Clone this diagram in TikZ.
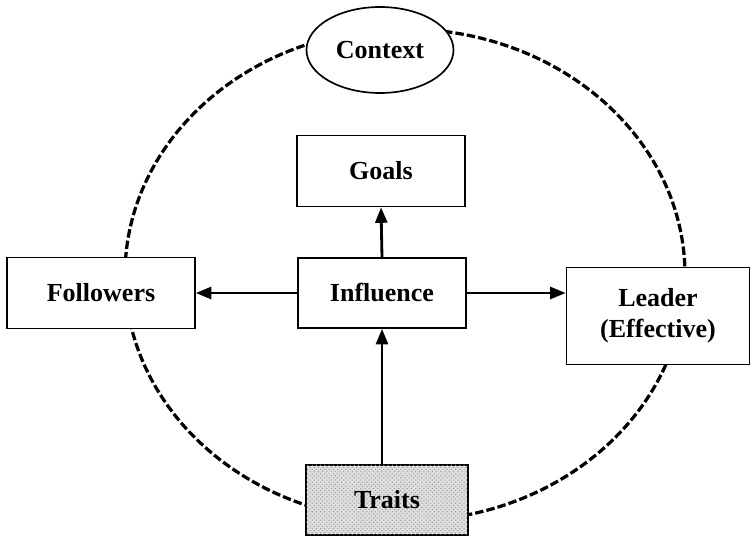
\documentclass[tikz,border=0pt]{standalone}
\usepackage{fontspec}
\setmainfont{Liberation Serif}
\usetikzlibrary{shapes,arrows.meta,positioning,patterns}

\begin{document}
\begin{tikzpicture}[
    x=0.025cm, y=-0.025cm,
    box/.style={rectangle, draw, fill=white, line width=1.2pt, font=\fontsize{18.5}{22}\selectfont\bfseries, align=center, inner sep=0pt},
    ctx/.style={ellipse, draw, fill=white, line width=1.2pt, minimum width=147*0.025cm, minimum height=86*0.025cm, font=\fontsize{18.5}{22}\selectfont\bfseries},
    link/.style={-{Triangle[length=11pt,width=8.5pt]}, line width=2pt},
    >=Stealth
]
    \useasboundingbox (0,0) rectangle (752,537);
    % the surrounding context
    \draw[line width=2.3pt, dash pattern=on 6pt off 2.2pt] (405,275) ellipse [x radius=280, y radius=246];
    \node[ctx] (ctx) at (380,50) {Context};
    \node[box, minimum width=168*0.025cm, minimum height=71*0.025cm] (goals) at (381,171) {Goals};
    \node[box, minimum width=168*0.025cm, minimum height=70*0.025cm] (infl) at (382,293) {Influence};
    \node[box, minimum width=188*0.025cm, minimum height=71*0.025cm] (foll) at (101,293) {Followers};
    \node[box, minimum width=183*0.025cm, minimum height=97*0.025cm] (lead) at (658,316) {Leader\\(Effective)};
    \node[box, minimum width=162*0.025cm, minimum height=70*0.025cm, fill=gray!25, postaction={pattern=crosshatch dots, pattern color=gray!80}] (traits) at (387,500) {Traits};
    % arrows
    \draw[link] (infl.north) -- (goals.south);
    \draw[link] (infl.west) -- (foll.east);
    \draw[link] (infl.east) -- (infl.east -| lead.west);
    \draw[link] (infl.south |- traits.north) -- (infl.south);
\end{tikzpicture}
\end{document}
